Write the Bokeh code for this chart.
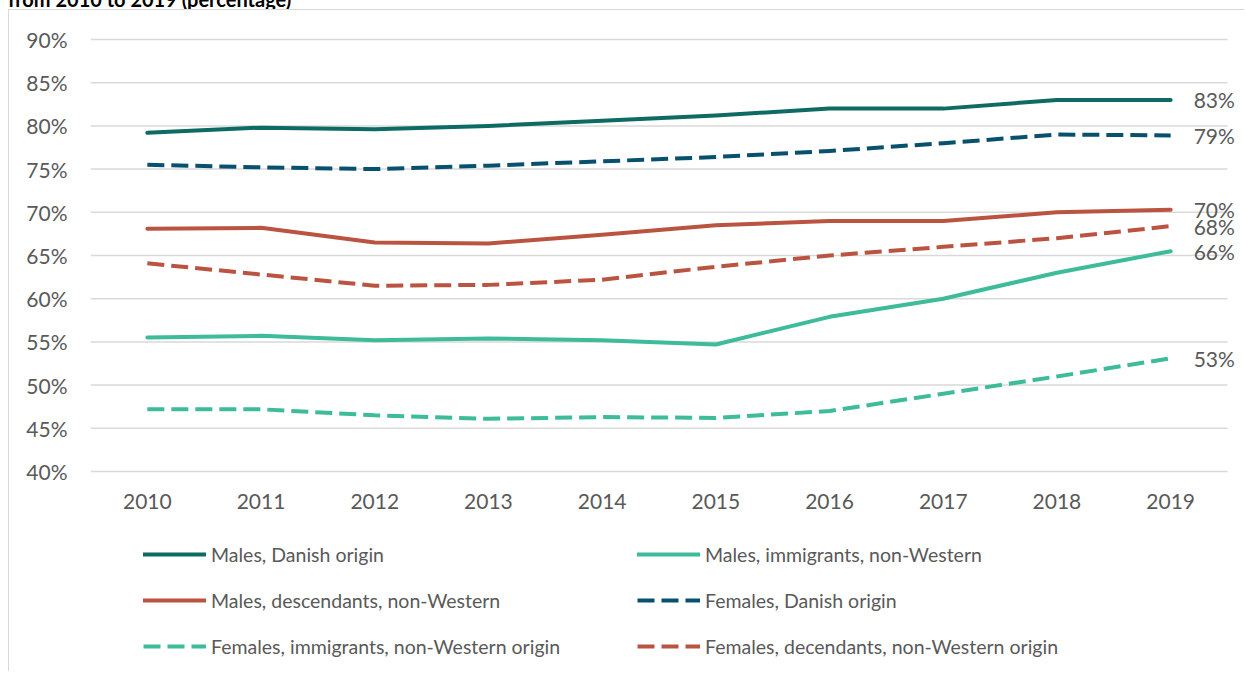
from bokeh.plotting import figure
from bokeh.layouts import column
from bokeh.models import (Range1d, FixedTicker, PrintfTickFormatter, Div,
                          Legend, LegendItem, ColumnDataSource, LabelSet)
from bokeh.embed import file_html
from bokeh.resources import INLINE
from bokeh.core.properties import value

title_text = "from 2010 to 2019 (percentage)"
years = [2010, 2011, 2012, 2013, 2014, 2015, 2016, 2017, 2018, 2019]
males_danish = [79.2, 79.8, 79.6, 80.0, 80.6, 81.2, 82.0, 82.0, 83.0, 83.0]
males_immigrants = [55.5, 55.7, 55.2, 55.4, 55.2, 54.7, 57.9, 60.0, 63.0, 65.5]
males_descendants = [68.1, 68.2, 66.5, 66.4, 67.4, 68.5, 69.0, 69.0, 70.0, 70.3]
females_danish = [75.5, 75.2, 75.0, 75.4, 75.9, 76.4, 77.1, 78.0, 79.0, 78.9]
females_immigrants = [47.2, 47.2, 46.5, 46.1, 46.3, 46.2, 47.0, 49.0, 51.0, 53.1]
females_descendants = [64.1, 62.8, 61.5, 61.6, 62.2, 63.7, 65.0, 66.0, 67.0, 68.4]
y_ticks = [40, 45, 50, 55, 60, 65, 70, 75, 80, 85, 90]

series = [
    ("Males, Danish origin", males_danish, "#0D6B63", "solid"),
    ("Males, immigrants, non-Western", males_immigrants, "#3DBB9A", "solid"),
    ("Males, descendants, non-Western", males_descendants, "#BA5441", "solid"),
    ("Females, Danish origin", females_danish, "#07506E", "17 7"),
    ("Females, immigrants, non-Western origin", females_immigrants, "#3DBB9A", "17 7"),
    ("Females, decendants, non-Western origin", females_descendants, "#BA5441", "17 7"),
]

FONT = "Lato"
GREY = "#595959"
FS = "21px"
BORDER = "1px solid #D9D9D9"

PX_PER_UNIT = 8.64      # vertical pixels per percentage point
PX_PER_YEAR = 113.7     # horizontal pixels per year
W, H1, H2 = 1236, 525, 137
ML, MT = 81, 27
MB = H1 - MT - int(round(PX_PER_UNIT * (y_ticks[-1] - y_ticks[0]))) - 4
frame_w = W - ML
x0 = years[0] - 0.5
x_end = x0 + frame_w / PX_PER_YEAR
pad = 2 / PX_PER_UNIT

p = figure(width=W, height=H1,
           x_range=Range1d(x0, x_end),
           y_range=Range1d(y_ticks[0] - pad, y_ticks[-1] + pad),
           output_backend="svg", toolbar_location=None,
           min_border_left=ML, min_border_right=0, min_border_top=MT, min_border_bottom=MB)
p.styles = {"margin-left": "8px", "border-left": BORDER, "border-top": BORDER}
p.outline_line_color = None
p.background_fill_color = "white"
p.border_fill_color = "white"

p.xgrid.grid_line_color = None
p.ygrid.grid_line_color = None
# horizontal gridlines spanning only the category area
p.segment(x0=[years[0] - 0.5] * len(y_ticks), y0=y_ticks,
          x1=[years[-1] + 0.5] * len(y_ticks), y1=y_ticks,
          line_color="#D9D9D9", line_width=1.5)

p.xaxis.ticker = FixedTicker(ticks=years)
p.yaxis.ticker = FixedTicker(ticks=y_ticks)
p.yaxis.formatter = PrintfTickFormatter(format="%d%%")
for ax in (p.xaxis[0], p.yaxis[0]):
    ax.axis_line_color = None
    ax.major_tick_line_color = None
    ax.minor_tick_line_color = None
    ax.major_tick_out = 0
    ax.major_tick_in = 0
    ax.major_label_text_font = FONT
    ax.major_label_text_font_size = FS
    ax.major_label_text_color = GREY
p.yaxis.major_label_standoff = 23
p.xaxis.major_label_standoff = 20


def line_style(col, dash):
    return dict(line_color=col, line_width=4, line_dash=dash,
                line_cap="round" if dash == "solid" else "butt", line_join="round")


for name, vals, col, dash in series:
    p.line(x=years, y=vals, **line_style(col, dash))

last_vals = [s[1][-1] for s in series]
src = ColumnDataSource(dict(x=[years[-1]] * len(last_vals), y=last_vals,
                            t=["%d%%" % round(v) for v in last_vals]))
p.add_layout(LabelSet(x="x", y="y", text="t", source=src, x_offset=23,
                      text_baseline="middle", text_align="left",
                      text_font=value(FONT), text_font_size=FS, text_color=GREY))

# legend panel (separate figure below the chart; its lines lie outside its view)
pl = figure(width=W, height=H2, output_backend="svg", toolbar_location=None,
            x_range=Range1d(0, 1), y_range=Range1d(0, 1),
            x_axis_type=None, y_axis_type=None,
            min_border_left=0, min_border_right=0, min_border_top=0, min_border_bottom=0)
pl.styles = {"margin-left": "8px", "border-left": BORDER}
pl.outline_line_color = None
pl.xgrid.grid_line_color = None
pl.ygrid.grid_line_color = None
items = []
for name, vals, col, dash in series:
    r = pl.line(x=years, y=vals, **line_style(col, dash))
    items.append(LegendItem(label=name, renderers=[r]))

legend = Legend(items=items, location=(53, 12), orientation="horizontal", ncols=2,
                glyph_width=63, glyph_height=26, label_height=26, label_width=406,
                spacing=20, padding=0, margin=0, label_standoff=5,
                border_line_color=None, background_fill_alpha=0,
                label_text_font=FONT, label_text_font_size="19.5px",
                label_text_color=GREY)
pl.add_layout(legend)

title = Div(text=title_text, width=600, height=20, margin=(0, 0, 0, 0),
            styles={"margin-top": "-11px", "margin-left": "8px", "margin-bottom": "0px",
                    "font-family": "Lato", "font-weight": "bold", "font-size": "20px",
                    "line-height": "20px", "color": "#000000", "overflow": "hidden"})

layout = column(title, p, pl, spacing=0)
open("out.html", "w").write(file_html(layout, INLINE))
